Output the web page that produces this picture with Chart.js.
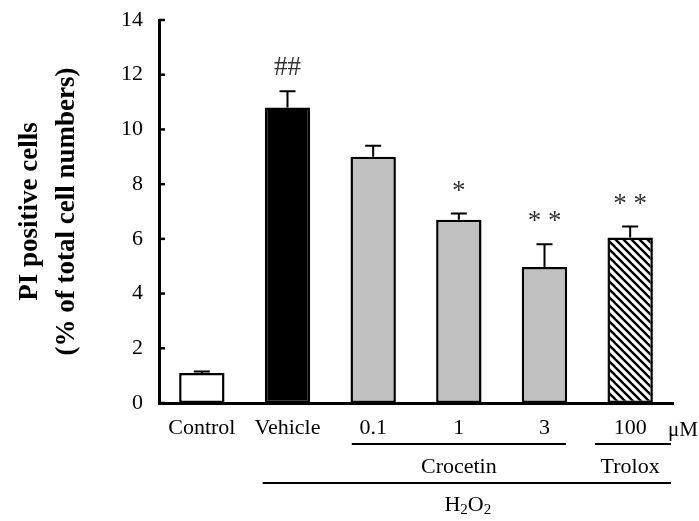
<!DOCTYPE html>
<html>
<head>
<meta charset="utf-8">
<script src="https://cdn.jsdelivr.net/npm/chart.js@4.4.1/dist/chart.umd.min.js"></script>
<style>
  html, body { margin: 0; padding: 0; background: #fff; }
  #wrap { width: 699px; height: 521px; }
</style>
</head>
<body>
<div id="wrap"><canvas id="c" width="699" height="521"></canvas></div>
<script>
// values
const categories = ['Control', 'Vehicle', '0.1', '1', '3', '100'];
const meanValues = [1.1, 10.8, 9.0, 6.7, 4.97, 6.05];
const errorValues = [0.05, 0.6, 0.4, 0.23, 0.83, 0.4];
const markers = ['', '##', '', '*', '* *', '* *'];
const yTicks = [0, 2, 4, 6, 8, 10, 12, 14];

const SERIF = "'Liberation Serif', 'Times New Roman', serif";
Chart.defaults.font.family = SERIF;
Chart.defaults.color = '#000';

// diagonal hatch for the Trolox bar
const hatch = (() => {
  const c = document.createElement('canvas');
  c.width = 8; c.height = 8;
  const g = c.getContext('2d');
  g.fillStyle = '#fff';
  g.fillRect(0, 0, 8, 8);
  g.strokeStyle = '#000';
  g.lineWidth = 2.4;
  [-8, 0, 8].forEach(o => {
    g.beginPath();
    g.moveTo(o - 1, -1);
    g.lineTo(o + 9, 9);
    g.stroke();
  });
  return document.getElementById('c').getContext('2d').createPattern(c, 'repeat');
})();

const extras = {
  id: 'extras',
  afterDatasetsDraw(chart) {
    const { ctx, scales: { x, y }, chartArea } = chart;
    const meta = chart.getDatasetMeta(0);
    ctx.save();

    // error bars (upper only) + significance marks
    ctx.strokeStyle = '#000';
    ctx.lineWidth = 2;
    meta.data.forEach((bar, i) => {
      const top = y.getPixelForValue(meanValues[i]);
      const cap = y.getPixelForValue(meanValues[i] + errorValues[i]);
      ctx.beginPath();
      ctx.moveTo(bar.x, top);
      ctx.lineTo(bar.x, cap);
      ctx.moveTo(bar.x - 8, cap);
      ctx.lineTo(bar.x + 8, cap);
      ctx.stroke();
      if (markers[i]) {
        ctx.fillStyle = '#333';
        ctx.font = '27px ' + SERIF;
        ctx.textAlign = 'center';
        ctx.textBaseline = 'middle';
        const isHash = markers[i] === '##';
        ctx.fillText(markers[i], bar.x, cap - (isHash ? 23 : 22));
      }
    });

    // inward y ticks
    ctx.lineWidth = 2.5;
    yTicks.forEach(v => {
      const py = y.getPixelForValue(v);
      ctx.beginPath();
      ctx.moveTo(chartArea.left, py);
      ctx.lineTo(chartArea.left + 6, py);
      ctx.stroke();
    });

    // group annotations under the x axis
    const p = i => x.getPixelForValue(i);
    const cw = p(1) - p(0);
    ctx.fillStyle = '#000';
    ctx.textBaseline = 'middle';
    ctx.font = '21px ' + SERIF;
    ctx.textAlign = 'left';
    ctx.fillText('\u03bcM', chartArea.right - 5, 430);

    ctx.lineWidth = 2;
    const hline = (x0, x1, yy) => {
      ctx.beginPath();
      ctx.moveTo(x0, yy);
      ctx.lineTo(x1, yy);
      ctx.stroke();
    };
    hline(p(2) - 0.25 * cw, p(4) + 0.25 * cw, 444);
    hline(p(5) - 0.41 * cw, chartArea.right - 2, 444);
    hline(p(1) - 0.29 * cw, chartArea.right - 2, 483);

    ctx.font = '22px ' + SERIF;
    ctx.textAlign = 'center';
    ctx.fillText('Crocetin', (p(2) + p(4)) / 2, 467);
    ctx.fillText('Trolox', p(5), 467);

    // H2O2 with subscripts
    const cx = (p(1) - 0.29 * cw + chartArea.right) / 2;
    const big = '22px ' + SERIF, small = '15px ' + SERIF;
    const parts = [['H', big, 0], ['2', small, 5], ['O', big, 0], ['2', small, 5]];
    let total = 0;
    parts.forEach(([t, f]) => { ctx.font = f; total += ctx.measureText(t).width; });
    let xx = cx - total / 2;
    ctx.textAlign = 'left';
    parts.forEach(([t, f, dy]) => {
      ctx.font = f;
      ctx.fillText(t, xx, 505 + dy);
      xx += ctx.measureText(t).width;
    });

    ctx.restore();
  }
};

new Chart(document.getElementById('c'), {
  type: 'bar',
  data: {
    labels: categories,
    datasets: [{
      data: meanValues,
      backgroundColor: ['#ffffff', '#000000', '#c0c0c0', '#c0c0c0', '#c0c0c0', hatch],
      borderColor: '#000',
      borderWidth: 2.5,
      borderSkipped: false,
      barPercentage: 0.53,
      categoryPercentage: 1
    }]
  },
  options: {
    responsive: false,
    animation: false,
    layout: { padding: { top: 20, right: 26, bottom: 0, left: 0 } },
    plugins: { legend: { display: false }, tooltip: { enabled: false } },
    scales: {
      x: {
        grid: { display: false, drawTicks: false },
        border: { display: true, color: '#000', width: 3 },
        ticks: { padding: 12, maxRotation: 0, autoSkip: false, font: { size: 22 }, color: '#000' },
        afterFit: s => { s.height = 118; s.paddingLeft = 0; s.paddingRight = 0; }
      },
      y: {
        min: 0, max: 14,
        afterBuildTicks: s => { s.ticks = yTicks.map(v => ({ value: v })); },
        grid: { display: false, drawTicks: false },
        border: { display: true, color: '#000', width: 3 },
        ticks: { padding: 16, font: { size: 22 }, color: '#000' },
        title: {
          display: true,
          text: ['PI positive cells', '(% of total cell numbers)'],
          font: { size: 27, weight: 'bold', lineHeight: 1.35 },
          color: '#000',
          padding: { top: 12, bottom: 0 }
        },
        afterFit: s => { s.width = 159; s.paddingTop = 0; s.paddingBottom = 0; }
      }
    }
  },
  plugins: [extras]
});
</script>
</body>
</html>
